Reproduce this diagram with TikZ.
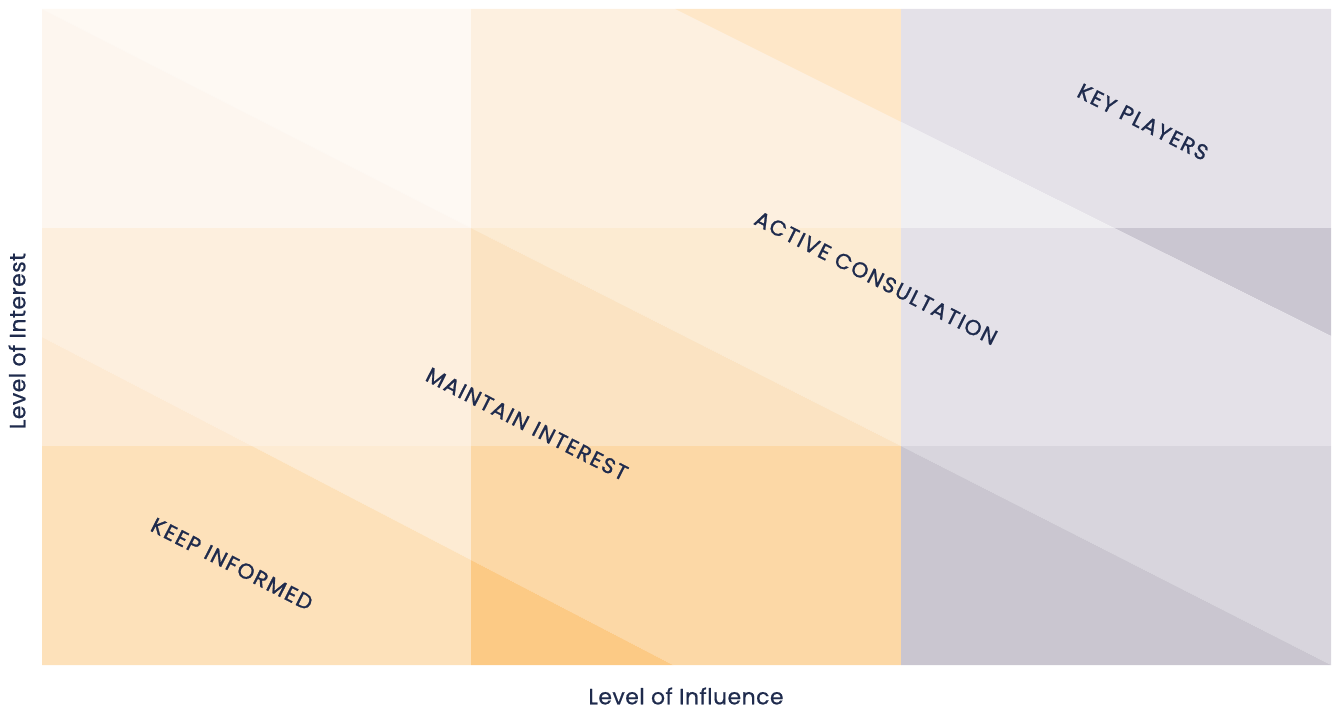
\documentclass[tikz,border=0pt]{standalone}
\usepackage{fontspec}
\setmainfont{Poppins}[LetterSpace=2, FakeBold=0.6]
\newfontfamily\quadfont[LetterSpace=8, FakeBold=1.2]{Poppins}

\definecolor{ink}{HTML}{1F2B4D}
\definecolor{ulA}{HTML}{FEF9F3}
\definecolor{ulB}{HTML}{FDF6EF}
\definecolor{umA}{HTML}{FDF0E0}
\definecolor{umB}{HTML}{FEE7C8}
\definecolor{urA}{HTML}{E4E1E8}
\definecolor{urB}{HTML}{F0EFF2}
\definecolor{mlA}{HTML}{FDEFDE}
\definecolor{mlB}{HTML}{FDEAD3}
\definecolor{mmA}{HTML}{FCEBD2}
\definecolor{mmB}{HTML}{FBE3C2}
\definecolor{mrA}{HTML}{CAC6D1}
\definecolor{mrB}{HTML}{E4E1E8}
\definecolor{llA}{HTML}{FDEBD3}
\definecolor{llB}{HTML}{FDE1BA}
\definecolor{lmA}{HTML}{FCD8A6}
\definecolor{lmB}{HTML}{FCCA85}
\definecolor{lrA}{HTML}{D8D5DD}
\definecolor{lrB}{HTML}{CAC6D0}

\tikzset{
  quadlabel/.style={text=ink, rotate=-27, font=\quadfont\fontsize{21.5}{21.5}\selectfont},
  axislabel/.style={text=ink, inner sep=1pt, font=\fontsize{22}{22}\selectfont}
}

\begin{document}
\begin{tikzpicture}[x=1pt,y=-1pt]
\useasboundingbox (0,0) rectangle (1336,709);
% top row
\fill[ulA] (42,9) -- (471,9) -- (471,228) -- cycle;
\fill[ulB] (42,9) -- (471,228) -- (42,228) -- cycle;
\fill[umA] (471,9) -- (675,9) -- (901,122) -- (901,228) -- (471,228) -- cycle;
\fill[umB] (675,9) -- (901,9) -- (901,122) -- cycle;
\fill[urA] (901,9) -- (1331,9) -- (1331,228) -- (1114,228) -- (901,122) -- cycle;
\fill[urB] (901,122) -- (1114,228) -- (901,228) -- cycle;
% middle row
\fill[mlA] (42,228) -- (471,228) -- (471,446) -- (252,446) -- (42,337) -- cycle;
\fill[mlB] (42,337) -- (252,446) -- (42,446) -- cycle;
\fill[mmA] (471,228) -- (901,228) -- (901,446) -- cycle;
\fill[mmB] (471,228) -- (901,446) -- (471,446) -- cycle;
\fill[mrA] (1114,228) -- (1331,228) -- (1331,336) -- cycle;
\fill[mrB] (901,228) -- (1114,228) -- (1331,336) -- (1331,446) -- (901,446) -- cycle;
% bottom row
\fill[llA] (252,446) -- (471,446) -- (471,560) -- cycle;
\fill[llB] (42,446) -- (252,446) -- (471,560) -- (471,665) -- (42,665) -- cycle;
\fill[lmA] (471,446) -- (901,446) -- (901,665) -- (673,665) -- (471,560) -- cycle;
\fill[lmB] (471,560) -- (673,665) -- (471,665) -- cycle;
\fill[lrA] (901,446) -- (1331,446) -- (1331,665) -- cycle;
\fill[lrB] (901,446) -- (1331,665) -- (901,665) -- cycle;

% labels
\node[quadlabel] (keyplayers) at (1143,122) {KEY PLAYERS};
\node[quadlabel] (consult) at (876,278) {ACTIVE CONSULTATION};
\node[quadlabel] (maintain) at (527,424) {MAINTAIN INTEREST};
\node[quadlabel] (informed) at (232,564) {KEEP INFORMED};
\node[axislabel, rotate=90] (interest) at (17,341) {Level of Interest};
\node[axislabel] (influence) at (686,696) {Level of Influence};
\end{tikzpicture}
\end{document}
